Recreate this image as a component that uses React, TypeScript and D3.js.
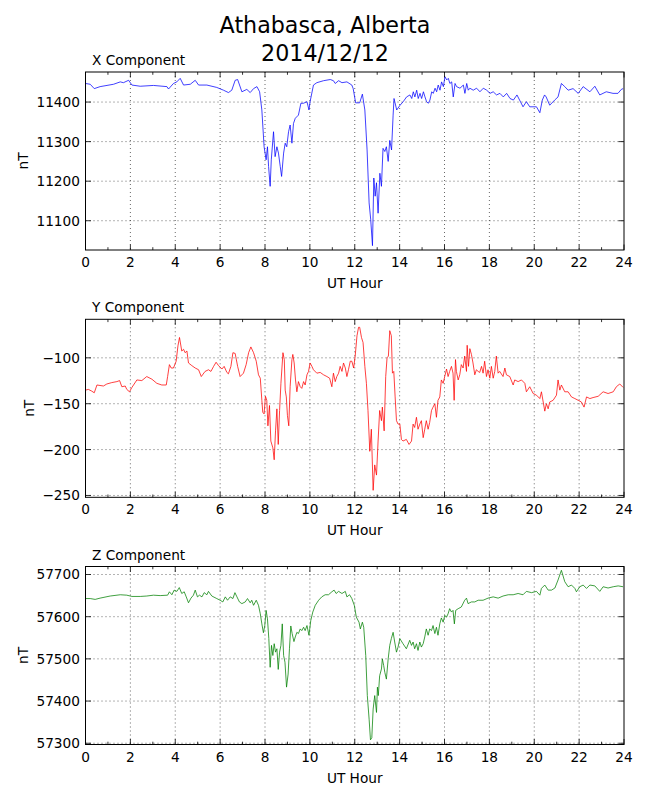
import React from 'react';
import * as d3 from 'd3';

const figTitle = ['Athabasca, Alberta', '2014/12/12'];
const hourTicks = [0, 2, 4, 6, 8, 10, 12, 14, 16, 18, 20, 22, 24];
const hourMinorTicks = [1, 3, 5, 7, 9, 11, 13, 15, 17, 19, 21, 23];

const xCompHours = [0.0,0.21,0.39,0.65,1.25,1.55,1.69,1.92,2.07,2.44,3.03,3.63,3.7,3.92,4.07,4.22,4.37,4.67,4.89,5.04,5.41,5.85,6.15,6.37,6.52,6.67,6.78,6.97,7.19,7.34,7.49,7.64,7.76,7.86,7.96,8.05,8.11,8.16,8.23,8.28,8.38,8.45,8.53,8.6,8.68,8.74,8.83,8.9,8.97,9.05,9.12,9.2,9.27,9.35,9.49,9.6,9.72,9.87,9.96,10.01,10.16,10.31,10.61,10.91,11.05,11.13,11.28,11.43,11.65,11.87,11.93,12.04,12.22,12.34,12.45,12.55,12.64,12.71,12.79,12.85,12.91,12.97,13.04,13.12,13.19,13.26,13.34,13.41,13.49,13.56,13.64,13.71,13.75,13.87,14.02,14.16,14.31,14.46,14.54,14.61,14.68,14.76,14.83,14.91,14.98,15.06,15.13,15.2,15.28,15.35,15.43,15.5,15.58,15.65,15.72,15.8,15.87,15.95,16.02,16.1,16.17,16.24,16.32,16.39,16.47,16.54,16.69,16.84,16.91,16.99,17.06,17.13,17.28,17.43,17.58,17.73,17.88,18.03,18.17,18.32,18.47,18.62,18.77,18.92,19.07,19.23,19.5,19.65,19.8,20.1,20.25,20.36,20.46,20.53,20.69,20.91,21.06,21.21,21.36,21.51,21.73,21.96,22.18,22.48,22.7,22.92,23.21,23.51,23.73,23.88,23.96];
const xCompValues = [11447,11445,11434,11439,11445,11451,11449,11455,11443,11440,11442,11439,11433,11447,11451,11460,11443,11445,11455,11443,11443,11437,11430,11424,11430,11455,11457,11426,11432,11424,11434,11439,11426,11380,11287,11254,11287,11237,11187,11254,11325,11262,11287,11271,11237,11212,11271,11296,11287,11325,11342,11296,11346,11359,11367,11397,11397,11401,11380,11401,11443,11449,11454,11457,11454,11447,11454,11449,11451,11443,11434,11398,11398,11420,11380,11279,11145,11104,11037,11208,11162,11196,11119,11220,11187,11283,11275,11287,11250,11303,11279,11367,11409,11380,11392,11401,11413,11418,11409,11426,11413,11430,11409,11422,11409,11426,11413,11401,11397,11405,11426,11422,11435,11426,11443,11430,11451,11439,11464,11456,11460,11447,11451,11413,11447,11439,11435,11443,11422,11447,11430,11435,11430,11435,11426,11435,11430,11422,11426,11418,11422,11413,11422,11409,11405,11418,11388,11401,11388,11388,11373,11405,11418,11413,11392,11405,11413,11447,11439,11430,11434,11422,11439,11426,11440,11418,11426,11422,11422,11432,11434];

const yCompHours = [0.0,0.13,0.28,0.39,0.51,0.8,0.95,1.17,1.4,1.52,1.62,1.77,1.84,1.96,2.07,2.29,2.51,2.73,2.96,3.18,3.4,3.6,3.66,3.74,3.82,3.92,4.04,4.12,4.19,4.29,4.37,4.44,4.52,4.59,4.74,4.89,5.04,5.16,5.33,5.48,5.59,5.71,5.82,5.93,6.08,6.18,6.3,6.37,6.48,6.57,6.67,6.78,6.89,7.04,7.16,7.27,7.37,7.49,7.61,7.71,7.79,7.86,7.9,7.96,8.02,8.08,8.13,8.2,8.26,8.35,8.41,8.47,8.53,8.59,8.65,8.71,8.8,8.86,8.9,8.95,9.0,9.06,9.12,9.2,9.24,9.3,9.36,9.42,9.49,9.57,9.64,9.72,9.79,9.87,9.94,10.01,10.09,10.16,10.31,10.46,10.61,10.76,10.88,10.98,11.05,11.13,11.2,11.28,11.35,11.43,11.5,11.58,11.65,11.72,11.8,11.87,11.95,12.02,12.1,12.17,12.22,12.3,12.37,12.45,12.52,12.59,12.67,12.74,12.82,12.89,12.97,13.04,13.11,13.19,13.23,13.31,13.38,13.44,13.5,13.56,13.63,13.68,13.74,13.8,13.86,13.93,14.01,14.08,14.15,14.3,14.42,14.53,14.6,14.67,14.75,14.82,14.9,14.97,15.05,15.12,15.19,15.27,15.34,15.42,15.49,15.57,15.64,15.71,15.79,15.86,15.94,16.01,16.09,16.16,16.23,16.31,16.38,16.43,16.49,16.53,16.61,16.68,16.75,16.83,16.9,16.98,17.01,17.07,17.13,17.2,17.27,17.35,17.42,17.5,17.57,17.65,17.72,17.79,17.87,17.94,18.02,18.09,18.17,18.24,18.31,18.39,18.46,18.61,18.69,18.76,18.91,19.06,19.13,19.28,19.43,19.58,19.65,19.8,19.95,20.1,20.25,20.32,20.47,20.54,20.62,20.69,20.84,20.99,21.06,21.14,21.21,21.36,21.51,21.66,21.81,21.96,22.1,22.22,22.33,22.48,22.62,22.85,23.07,23.29,23.52,23.66,23.81,23.96];
const yCompValues = [-135.2,-134.4,-136.3,-138.1,-129.6,-130.7,-128.5,-127.0,-125.9,-124.8,-131.5,-130.7,-134.4,-137.0,-132.2,-124.1,-124.8,-120.4,-123.3,-127.8,-129.6,-129.6,-120.4,-107.4,-111.1,-111.1,-103.7,-87.0,-77.8,-92.6,-90.7,-94.4,-92.6,-105.6,-108.5,-111.1,-113.0,-120.4,-114.8,-113.0,-114.8,-109.3,-104.8,-108.5,-112.2,-109.3,-115.9,-117.4,-109.3,-94.4,-95.2,-109.3,-120.4,-116.7,-107.4,-94.4,-88.1,-94.4,-103.7,-118.5,-122.2,-146.3,-159.3,-161.1,-141.9,-146.3,-174.1,-151.9,-190.7,-198.1,-211.1,-179.6,-155.6,-194.4,-157.4,-127.8,-94.4,-101.9,-135.2,-142.6,-163.0,-174.1,-131.5,-101.9,-96.3,-105.6,-124.1,-137.0,-125.9,-131.5,-133.3,-125.9,-129.6,-118.5,-114.8,-105.6,-109.3,-113.0,-116.7,-115.9,-118.5,-120.4,-122.2,-131.5,-116.7,-125.9,-120.4,-116.7,-109.3,-114.8,-105.6,-111.1,-120.4,-113.0,-103.7,-103.7,-111.1,-98.1,-75.9,-66.7,-66.7,-77.8,-83.3,-109.3,-127.8,-157.4,-201.9,-177.8,-244.4,-216.7,-227.8,-190.7,-157.4,-168.5,-153.7,-179.6,-120.4,-100.0,-98.1,-70.4,-75.9,-116.7,-114.8,-142.6,-168.5,-172.2,-172.2,-188.9,-190.7,-188.9,-194.4,-190.7,-172.2,-175.9,-164.8,-177.8,-172.2,-168.5,-187.0,-177.8,-168.5,-177.8,-170.4,-157.4,-153.7,-150.0,-164.8,-146.3,-142.6,-124.1,-127.8,-120.4,-112.2,-120.4,-114.8,-109.3,-116.7,-146.3,-101.9,-114.8,-124.1,-118.5,-107.4,-111.1,-98.1,-114.8,-86.3,-109.3,-90.0,-96.3,-105.6,-118.5,-113.0,-114.8,-115.9,-109.3,-116.7,-103.7,-120.4,-113.0,-122.2,-109.3,-122.2,-114.8,-98.1,-116.7,-114.8,-120.4,-111.1,-118.5,-120.4,-129.6,-124.1,-125.9,-124.1,-127.8,-137.0,-131.5,-138.9,-140.7,-144.4,-137.0,-158.1,-150.0,-155.6,-148.1,-146.3,-140.7,-124.1,-135.2,-129.6,-137.0,-137.0,-142.6,-144.4,-146.3,-148.1,-153.7,-142.6,-144.4,-143.3,-141.9,-137.0,-138.9,-137.0,-131.5,-128.5,-132.2];

const zCompHours = [0.0,0.21,0.43,0.65,1.1,1.55,1.84,2.07,2.44,2.73,3.03,3.33,3.66,3.74,3.85,3.95,4.07,4.18,4.29,4.4,4.49,4.59,4.7,4.81,4.89,4.99,5.08,5.19,5.29,5.41,5.48,5.63,5.85,6.0,6.12,6.23,6.33,6.45,6.57,6.66,6.75,6.86,6.97,7.12,7.22,7.34,7.41,7.49,7.61,7.71,7.79,7.86,7.93,7.99,8.05,8.11,8.17,8.23,8.29,8.35,8.41,8.47,8.53,8.59,8.65,8.71,8.77,8.83,8.89,8.96,9.03,9.09,9.15,9.21,9.29,9.35,9.42,9.49,9.57,9.64,9.72,9.79,9.87,9.96,10.04,10.13,10.24,10.39,10.53,10.68,10.83,10.98,11.08,11.17,11.28,11.43,11.58,11.65,11.77,11.87,11.98,12.07,12.19,12.25,12.34,12.4,12.49,12.56,12.64,12.7,12.76,12.82,12.89,12.97,13.01,13.05,13.11,13.19,13.23,13.29,13.34,13.41,13.49,13.56,13.63,13.71,13.78,13.86,13.93,14.01,14.15,14.3,14.45,14.53,14.6,14.67,14.75,14.82,14.9,14.97,15.05,15.12,15.19,15.27,15.34,15.42,15.49,15.57,15.64,15.71,15.79,15.86,15.94,16.01,16.09,16.16,16.23,16.31,16.38,16.44,16.5,16.61,16.75,16.9,16.98,17.05,17.2,17.35,17.5,17.72,17.94,18.17,18.39,18.61,18.84,19.06,19.28,19.5,19.65,19.88,20.1,20.25,20.32,20.47,20.62,20.77,20.92,21.06,21.21,21.36,21.51,21.66,21.81,21.88,22.03,22.18,22.33,22.48,22.7,22.92,23.07,23.29,23.52,23.74,23.96];
const zCompValues = [57643,57643,57641,57644,57649,57652,57651,57648,57648,57649,57651,57650,57651,57659,57652,57663,57660,57669,57655,57659,57647,57633,57644,57651,57663,57647,57651,57647,57657,57652,57660,57649,57643,57639,57635,57647,57639,57647,57643,57657,57647,57635,57631,57635,57643,57633,57639,57627,57639,57627,57607,57583,57562,57579,57615,57595,57548,57480,57532,57508,57536,57516,57524,57475,57516,57532,57583,57508,57492,57433,57464,57524,57578,57560,57541,57552,57563,57560,57571,57567,57575,57567,57579,57556,57591,57611,57627,57639,57647,57652,57652,57659,57663,57655,57660,57655,57660,57647,57652,57643,57627,57599,57587,57571,57587,57575,57508,57413,57357,57308,57313,57381,57413,57373,57433,57413,57460,57476,57500,57484,57468,57452,57500,57532,57548,57563,57540,57516,57528,57548,57536,57524,57544,57532,57540,57524,57536,57520,57540,57528,57536,57552,57571,57556,57571,57567,57579,57560,57575,57556,57583,57597,57587,57603,57599,57607,57619,57611,57615,57583,57615,57619,57623,57639,57644,57631,57635,57635,57639,57639,57644,57647,57644,57649,57652,57652,57655,57652,57660,57657,57660,57651,57667,57675,57663,57663,57668,57687,57710,57683,57671,57675,57667,57659,57671,57675,57667,57675,57673,57660,57671,57668,57671,57673,57671];

const xCompTicks = [11100, 11200, 11300, 11400];
const yCompTicks = [-250, -200, -150, -100];
const zCompTicks = [57300, 57400, 57500, 57600, 57700];

const W = 650;
const H = 800;
const LEFT = 85.5;
const RIGHT = 624;
const PH = 178;
const TOPS = [72, 319.3, 566.5];
const YLABEL_X = [27.5, 34, 27.5];
const FONT = 'DejaVu Sans, sans-serif';

const panels = [
  { title: 'X Component', hours: xCompHours, values: xCompValues, color: '#0000ff', domain: [11026, 11476], ticks: xCompTicks },
  { title: 'Y Component', hours: yCompHours, values: yCompValues, color: '#ff0000', domain: [-252, -58], ticks: yCompTicks },
  { title: 'Z Component', hours: zCompHours, values: zCompValues, color: '#008000', domain: [57297, 57719], ticks: zCompTicks },
];

const fmt = (v: number) => String(v).replace('-', '\u2212');

function Panel({ p, top, ylabelX }: { p: typeof panels[0]; top: number; ylabelX: number }) {
  const x = d3.scaleLinear().domain([0, 24]).range([LEFT, RIGHT]);
  const y = d3.scaleLinear().domain(p.domain).range([top + PH, top]);
  const pts = p.hours.map((h, i) => [h, p.values[i]] as [number, number]);
  const line = d3.line<[number, number]>().x(d => x(d[0])).y(d => y(d[1]));
  const bottom = top + PH;
  const MAJ = 5.5;
  const MIN = 2.8;
  return (
    <g>
      <defs>
        <clipPath id={'clip' + Math.round(top)}>
          <rect x={LEFT} y={top} width={RIGHT - LEFT} height={PH} />
        </clipPath>
      </defs>
      {hourTicks.slice(1, -1).map(t => (
        <line key={'gx' + t} x1={x(t)} x2={x(t)} y1={top} y2={bottom} stroke="#000" strokeWidth={0.6} strokeDasharray="1,3" />
      ))}
      {p.ticks.map(t => (
        <line key={'gy' + t} x1={LEFT} x2={RIGHT} y1={y(t)} y2={y(t)} stroke="#000" strokeWidth={0.6} strokeDasharray="1,3" />
      ))}
      <path d={line(pts) || ''} fill="none" stroke={p.color} strokeWidth={0.75} clipPath={`url(#clip${Math.round(top)})`} />
      {hourTicks.map(t => (
        <g key={'tx' + t}>
          <line x1={x(t)} x2={x(t)} y1={bottom} y2={bottom - MAJ} stroke="#000" strokeWidth={0.8} />
          <line x1={x(t)} x2={x(t)} y1={top} y2={top + MAJ} stroke="#000" strokeWidth={0.8} />
          <text x={x(t)} y={bottom + 17} textAnchor="middle" fontFamily={FONT} fontSize={13.7}>{t}</text>
        </g>
      ))}
      {hourMinorTicks.map(t => (
        <g key={'mx' + t}>
          <line x1={x(t)} x2={x(t)} y1={bottom} y2={bottom - MIN} stroke="#000" strokeWidth={0.8} />
          <line x1={x(t)} x2={x(t)} y1={top} y2={top + MIN} stroke="#000" strokeWidth={0.8} />
        </g>
      ))}
      {p.ticks.map(t => (
        <g key={'ty' + t}>
          <line x1={LEFT} x2={LEFT + MAJ} y1={y(t)} y2={y(t)} stroke="#000" strokeWidth={0.8} />
          <line x1={RIGHT} x2={RIGHT - MAJ} y1={y(t)} y2={y(t)} stroke="#000" strokeWidth={0.8} />
          <text x={LEFT - 5.5} y={y(t)} dy="0.36em" textAnchor="end" fontFamily={FONT} fontSize={13.7}>{fmt(t)}</text>
        </g>
      ))}
      <rect x={LEFT} y={top} width={RIGHT - LEFT} height={PH} fill="none" stroke="#000" strokeWidth={1} />
      <text x={92} y={top - 7} fontFamily={FONT} fontSize={13.7}>{p.title}</text>
      <text x={(LEFT + RIGHT) / 2} y={bottom + 38} textAnchor="middle" fontFamily={FONT} fontSize={13.7}>UT Hour</text>
      <text transform={`translate(${ylabelX},${top + PH / 2}) rotate(-90)`} textAnchor="middle" fontFamily={FONT} fontSize={13.7}>nT</text>
    </g>
  );
}

export default function App() {
  return (
    <svg width={W} height={H} style={{ position: 'absolute', left: 0, top: 0, background: '#fff' }}>
      <rect x={0} y={0} width={W} height={H} fill="#fff" />
      <text x={325} y={33} textAnchor="middle" fontFamily={FONT} fontSize={22.2}>{figTitle[0]}</text>
      <text x={325} y={61} textAnchor="middle" fontFamily={FONT} fontSize={22.2}>{figTitle[1]}</text>
      {panels.map((p, i) => (
        <Panel key={p.title} p={p} top={TOPS[i]} ylabelX={YLABEL_X[i]} />
      ))}
    </svg>
  );
}
